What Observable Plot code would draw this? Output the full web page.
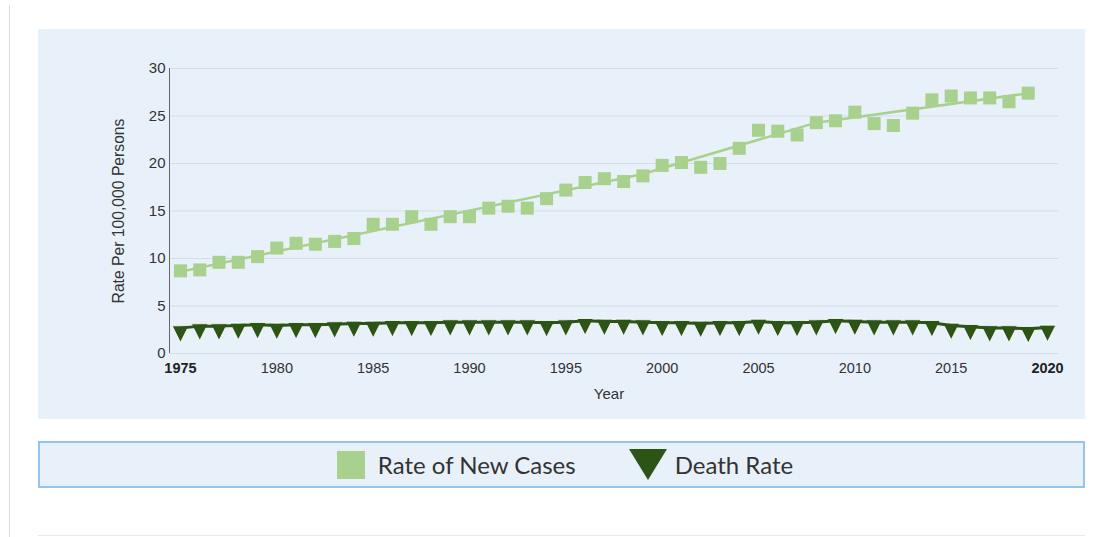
<!DOCTYPE html>
<html>
<head>
<meta charset="utf-8">
<script src="https://cdn.jsdelivr.net/npm/d3@7"></script>
<script src="https://cdn.jsdelivr.net/npm/@observablehq/plot@0.6"></script>
<style>
  html, body { margin: 0; padding: 0; background: #ffffff; }
  body { width: 1107px; height: 537px; position: relative; overflow: hidden; font-family: "Liberation Sans", Arial, sans-serif; }
  #vline { position: absolute; left: 9px; top: 5px; width: 1px; height: 532px; background: #dcdcdc; }
  #panel { position: absolute; left: 38px; top: 29px; width: 1047px; height: 390px; background: #e8f1fa; }
  #legend { position: absolute; left: 38px; top: 441px; width: 1047px; height: 47px; box-sizing: border-box;
    border: 2px solid #93c4ec; background: #e8f1fa; display: flex; align-items: center; justify-content: center;
    font-family: Lato, "Open Sans", sans-serif; font-size: 24px; color: #333; }
  #legend .item { display: flex; align-items: center; }
  #legend svg { display: block; }
  #hline { position: absolute; left: 38px; top: 535px; width: 1047px; height: 1px; background: #e8e8e8; }
</style>
</head>
<body>
<div id="vline"></div>
<div id="panel"></div>
<div id="legend"></div>
<div id="hline"></div>
<script>
// ---- data ----
const caseYears = [1975,1976,1977,1978,1979,1980,1981,1982,1983,1984,1985,1986,1987,1988,1989,1990,1991,1992,1993,1994,1995,1996,1997,1998,1999,2000,2001,2002,2003,2004,2005,2006,2007,2008,2009,2010,2011,2012,2013,2014,2015,2016,2017,2018,2019];
const newCases = [8.7,8.8,9.6,9.6,10.2,11.1,11.6,11.5,11.8,12.1,13.6,13.6,14.4,13.6,14.4,14.4,15.3,15.5,15.3,16.3,17.2,18.0,18.4,18.1,18.7,19.8,20.1,19.6,20.0,21.6,23.5,23.4,23.0,24.3,24.5,25.4,24.2,24.0,25.3,26.7,27.1,26.9,26.9,26.5,27.4];
const trendYears = [1975, 1999, 2008, 2019];
const trendValues = [8.6, 18.9, 24.3, 27.4];
const deathYears = [1975,1976,1977,1978,1979,1980,1981,1982,1983,1984,1985,1986,1987,1988,1989,1990,1991,1992,1993,1994,1995,1996,1997,1998,1999,2000,2001,2002,2003,2004,2005,2006,2007,2008,2009,2010,2011,2012,2013,2014,2015,2016,2017,2018,2019,2020];
const deathRate = [2.04,2.25,2.25,2.32,2.39,2.32,2.39,2.39,2.46,2.53,2.53,2.6,2.6,2.6,2.67,2.67,2.67,2.67,2.67,2.6,2.67,2.81,2.74,2.74,2.67,2.6,2.6,2.53,2.6,2.6,2.74,2.6,2.6,2.67,2.81,2.74,2.67,2.67,2.67,2.6,2.32,2.18,2.04,2.04,1.97,2.11];
const yTicks = [0,5,10,15,20,25,30];
const xTicksMid = [1980,1985,1990,1995,2000,2005,2010,2015];
const xTicksEnd = [1975,2020];
const seriesNames = ["Rate of New Cases", "Death Rate"];
const xDomain = [1974.43, 2020.57];
const yDomain = [0, 30];

const lightGreen = "#a9d18e";
const darkGreen = "#2c5416";

const casesData = caseYears.map((y, i) => ({year: y, value: newCases[i]}));
const trendData = trendYears.map((y, i) => ({year: y, value: trendValues[i]}));
const deathData = deathYears.map((y, i) => ({year: y, value: deathRate[i]}));

const triangleDown = {
  draw(ctx, size) {
    const r = Math.sqrt(size / Math.PI);
    ctx.moveTo(-r, -r);
    ctx.lineTo(r, -r);
    ctx.lineTo(0, r);
    ctx.closePath();
  }
};

const chart = Plot.plot({
  width: 1047,
  height: 390,
  marginLeft: 131,
  marginRight: 27,
  marginTop: 39,
  marginBottom: 66,
  style: {background: "transparent", overflow: "visible", fontFamily: "'Liberation Sans', Arial, sans-serif"},
  x: {domain: xDomain},
  y: {domain: yDomain},
  marks: [
    Plot.gridY(yTicks, {stroke: "#d4dde7", strokeOpacity: 1, strokeWidth: 1}),
    Plot.ruleX([xDomain[0]], {stroke: "#666", strokeWidth: 1}),
    Plot.axisY({ticks: yTicks, tickSize: 0, tickPadding: 4, fontSize: 15, color: "#333", label: null}),
    Plot.axisX({ticks: xTicksMid, tickSize: 0, tickPadding: 9, fontSize: 14.5, color: "#333", tickFormat: d => String(d), label: null}),
    Plot.axisX({ticks: xTicksEnd, tickSize: 0, tickPadding: 9, fontSize: 14.5, fontWeight: "bold", color: "#222", tickFormat: d => String(d), label: null}),
    Plot.text(["Year"], {frameAnchor: "bottom", dy: 45, dx: -5, fontSize: 15, fill: "#333", text: d => d}),
    Plot.text(["Rate Per 100,000 Persons"], {frameAnchor: "left", textAnchor: "middle", dx: -51, rotate: -90, fontSize: 15.7, fill: "#333", text: d => d}),
    Plot.line(trendData, {x: "year", y: "value", stroke: lightGreen, strokeWidth: 2.5}),
    Plot.dot(casesData, {x: "year", y: "value", symbol: "square", r: 7.35, fill: lightGreen, stroke: "none"}),
    Plot.dot(deathData, {x: "year", y: "value", symbol: triangleDown, r: 8.3, fill: darkGreen, stroke: "#ffffff", strokeWidth: 0.8}),
    Plot.line(deathData, {x: "year", y: "value", stroke: darkGreen, strokeWidth: 3, dy: -6})
  ]
});
chart.style.position = "absolute";
chart.style.left = "0px";
chart.style.top = "0px";
document.getElementById("panel").appendChild(chart);

// ---- legend ----
const legend = document.getElementById("legend");
legend.innerHTML = `
  <div class="item" style="margin-left:7px">
    <svg width="28" height="28"><rect x="0" y="0" width="28" height="28" fill="${lightGreen}"/></svg>
    <span style="margin-left:13px">${seriesNames[0]}</span>
  </div>
  <div class="item" style="margin-left:53px">
    <svg width="38" height="31"><path d="M0,0 L38,0 L19,31 Z" fill="${darkGreen}"/></svg>
    <span style="margin-left:8px">${seriesNames[1]}</span>
  </div>`;
</script>
</body>
</html>
